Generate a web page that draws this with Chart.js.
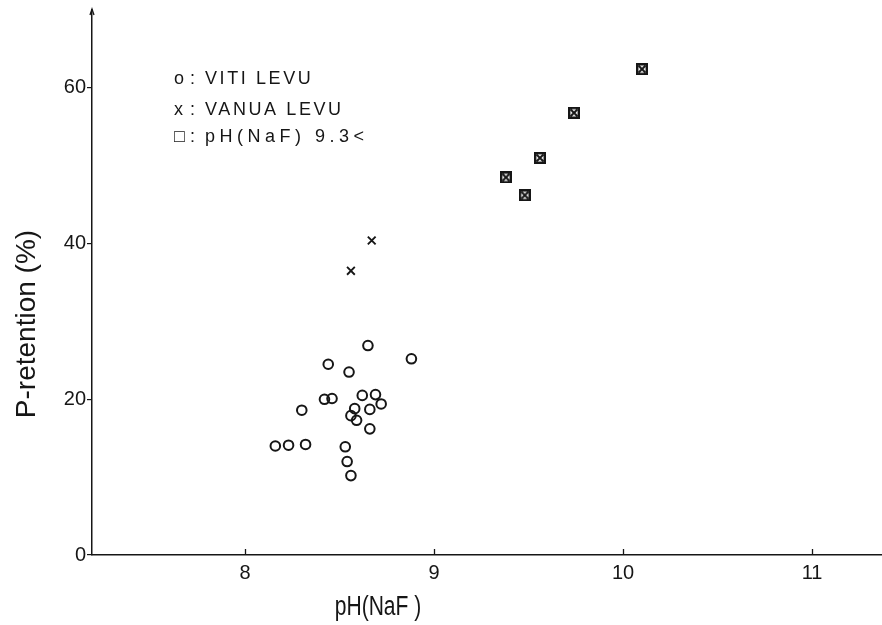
<!DOCTYPE html>
<html>
<head>
<meta charset="utf-8">
<script src="https://cdn.jsdelivr.net/npm/chart.js@4.4.1/dist/chart.umd.min.js"></script>
<style>
  html, body { margin: 0; padding: 0; background: #ffffff; }
  canvas { display: block; }
</style>
</head>
<body>
<canvas id="c" width="882" height="625"></canvas>
<script>
// ---- Data ----
const vitiPH = [8.65, 8.88, 8.44, 8.55, 8.42, 8.46, 8.62, 8.69, 8.72, 8.30, 8.58, 8.66, 8.56, 8.59, 8.66, 8.16, 8.23, 8.32, 8.53, 8.54, 8.56];
const vitiP  = [26.9, 25.2, 24.5, 23.5, 20.0, 20.1, 20.5, 20.6, 19.4, 18.6, 18.8, 18.7, 17.9, 17.3, 16.2, 14.0, 14.1, 14.2, 13.9, 12.0, 10.2];
const vanuaPH = [8.67, 8.56];
const vanuaP  = [40.4, 36.5];
const highPH = [10.10, 9.74, 9.56, 9.38, 9.48];
const highP  = [62.4, 56.8, 51.0, 48.5, 46.2];
const xTicks = [8, 9, 10, 11];
const yTicks = [0, 20, 40, 60];
const legendLines = [
  { sym: 'o', text: 'VITI LEVU' },
  { sym: 'x', text: 'VANUA LEVU' },
  { sym: '\u25A1', text: 'pH(NaF) 9.3<' }
];
const xTitle = 'pH(NaF )';
const yTitle = 'P-retention (%)';

const INK = '#161616';
const zip = (xs, ys) => xs.map((x, i) => ({ x, y: ys[i] }));

// boxed-cross marker
function boxedCross() {
  const c = document.createElement('canvas');
  c.width = 12; c.height = 12;
  const g = c.getContext('2d');
  g.fillStyle = '#fff';
  g.fillRect(0, 0, 12, 12);
  g.strokeStyle = INK;
  g.lineWidth = 2.4;
  g.strokeRect(1.2, 1.2, 9.6, 9.6);
  g.lineWidth = 2;
  g.beginPath();
  g.moveTo(2.5, 2.5); g.lineTo(9.5, 9.5);
  g.moveTo(9.5, 2.5); g.lineTo(2.5, 9.5);
  g.stroke();
  return c;
}

const decor = {
  id: 'decor',
  afterDraw(chart) {
    const ctx = chart.ctx;
    const xs = chart.scales.x;
    const area = chart.chartArea;
    ctx.save();
    ctx.strokeStyle = INK;
    ctx.lineWidth = 1.3;
    // inward x ticks
    xTicks.forEach(v => {
      const px = Math.round(xs.getPixelForValue(v)) + 0.5;
      ctx.beginPath();
      ctx.moveTo(px, area.bottom);
      ctx.lineTo(px, area.bottom - 6);
      ctx.stroke();
    });
    // small arrow tip at top of y axis
    ctx.beginPath();
    ctx.moveTo(area.left - 2, area.top + 5);
    ctx.lineTo(area.left, area.top - 1);
    ctx.lineTo(area.left + 2, area.top + 5);
    ctx.stroke();

    ctx.fillStyle = INK;
    // y title
    ctx.save();
    ctx.translate(27, 324);
    ctx.rotate(-Math.PI / 2);
    ctx.font = '28px "Liberation Sans", Arial, sans-serif';
    ctx.textAlign = 'center';
    ctx.textBaseline = 'middle';
    ctx.fillText(yTitle, 0, 0);
    ctx.restore();

    // x title (narrow)
    ctx.save();
    ctx.translate(378, 615);
    ctx.scale(0.78, 1);
    ctx.font = '27px "Liberation Sans", Arial, sans-serif';
    ctx.textAlign = 'center';
    ctx.textBaseline = 'alphabetic';
    ctx.fillText(xTitle, 0, 0);
    ctx.restore();

    // legend
    const baselines = [84, 115, 142];
    ctx.font = '18px "Liberation Sans", Arial, sans-serif';
    ctx.textBaseline = 'alphabetic';
    ctx.textAlign = 'left';
    legendLines.forEach((l, i) => {
      const b = baselines[i];
      ctx.letterSpacing = '0px';
      ctx.fillText(l.sym, 174, b);
      ctx.fillText(':', 190, b);
      ctx.letterSpacing = i === 2 ? '4.5px' : '2.6px';
      ctx.fillText(l.text, 205, b);
    });
    ctx.letterSpacing = '0px';
    ctx.restore();
  }
};

new Chart(document.getElementById('c'), {
  type: 'scatter',
  data: {
    datasets: [
      {
        label: 'VITI LEVU',
        data: zip(vitiPH, vitiP),
        pointStyle: 'circle',
        pointRadius: 4.8,
        pointBorderWidth: 2,
        borderColor: INK,
        backgroundColor: 'rgba(255,255,255,0)'
      },
      {
        label: 'VANUA LEVU',
        data: zip(vanuaPH, vanuaP),
        pointStyle: 'crossRot',
        pointRadius: 5.5,
        pointBorderWidth: 1.9,
        borderColor: INK,
        backgroundColor: INK
      },
      {
        label: 'pH(NaF) 9.3<',
        data: zip(highPH, highP),
        pointStyle: boxedCross(),
        pointRadius: 6,
        borderColor: INK,
        backgroundColor: INK
      }
    ]
  },
  options: {
    responsive: false,
    devicePixelRatio: 1,
    animation: false,
    layout: { autoPadding: false, padding: { top: 10, right: 0, left: 0, bottom: 0 } },
    plugins: { legend: { display: false }, tooltip: { enabled: false } },
    scales: {
      x: {
        type: 'linear',
        min: 7.19,
        max: 11.37,
        afterBuildTicks: s => { s.ticks = xTicks.map(v => ({ value: v })); },
        afterFit: s => { s.height = 70; s.paddingLeft = 0; s.paddingRight = 0; },
        grid: { drawOnChartArea: false, drawTicks: false, color: INK },
        border: { display: true, color: INK, width: 1.5 },
        ticks: {
          padding: 6,
          color: INK,
          font: { family: '"Liberation Sans", Arial, sans-serif', size: 20 }
        }
      },
      y: {
        type: 'linear',
        min: 0,
        max: 70,
        afterBuildTicks: s => { s.ticks = yTicks.map(v => ({ value: v })); },
        afterFit: s => { s.width = 92; s.paddingTop = 0; s.paddingBottom = 0; },
        grid: { drawOnChartArea: false, drawTicks: true, tickLength: 5, color: INK, lineWidth: 1.2 },
        border: { display: true, color: INK, width: 1.5 },
        ticks: {
          padding: 1,
          color: INK,
          font: { family: '"Liberation Sans", Arial, sans-serif', size: 20 }
        }
      }
    }
  },
  plugins: [decor]
});
</script>
</body>
</html>
